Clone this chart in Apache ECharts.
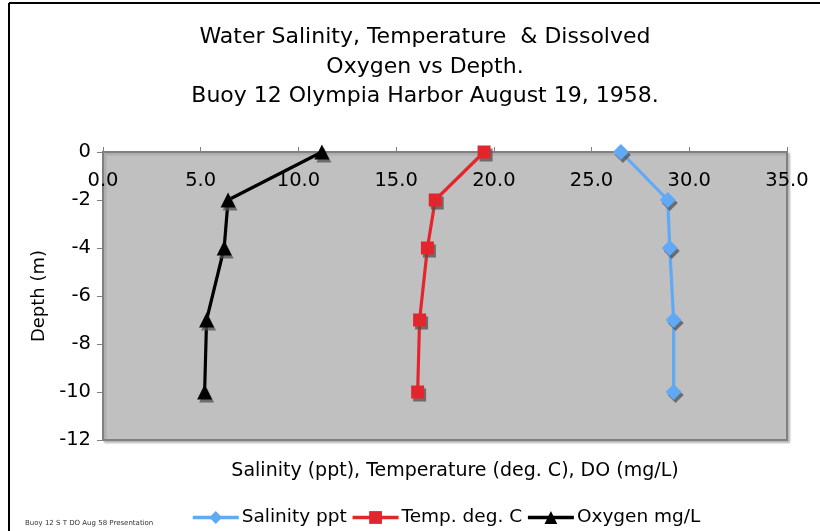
<!DOCTYPE html>
<html>
<head>
<meta charset="utf-8">
<script src="https://cdn.jsdelivr.net/npm/echarts@6/dist/echarts.min.js"></script>
<style>
  html, body { margin: 0; padding: 0; background: #fff; }
  #chart { width: 820px; height: 531px; }
</style>
</head>
<body>
<div id="chart"></div>
<script>
// Depth profile, Buoy 12, Olympia Harbor, 19 Aug 1958
const depths = [0, -2, -4, -7, -10];
const salinity = [26.5, 28.9, 29.0, 29.2, 29.2];     // ppt
const temperature = [19.5, 17.0, 16.6, 16.2, 16.1];  // deg. C
const oxygen = [11.2, 6.4, 6.2, 5.3, 5.2];           // mg/L

const xTicks = { min: 0, max: 35, step: 5 };
const yTicks = { min: -12, max: 0, step: 2 };

const FONT = 'DejaVu Sans, Verdana, sans-serif';

function pairs(values) {
  return values.map((v, i) => [v, depths[i]]);
}

const markerShadow = {
  shadowColor: 'rgba(80,80,80,0.75)',
  shadowOffsetX: 2,
  shadowOffsetY: 3,
  shadowBlur: 0
};

function profile(name, values, color, symbol, size) {
  return {
    name: name,
    type: 'line',
    data: pairs(values),
    symbol: symbol,
    symbolSize: size,
    showAllSymbol: true,
    lineStyle: { color: color, width: 3.2 },
    itemStyle: Object.assign({ color: color }, markerShadow),
    emphasis: { disabled: true },
    z: 3
  };
}

const chart = echarts.init(document.getElementById('chart'), null, { renderer: 'canvas' });

chart.setOption({
  animation: false,
  backgroundColor: '#ffffff',
  textStyle: { fontFamily: FONT },
  title: [
    {
      text: 'Water Salinity, Temperature  & Dissolved\nOxygen vs Depth.\nBuoy 12 Olympia Harbor August 19, 1958.',
      left: 420,
      top: 18,
      textAlign: 'center',
      textStyle: { fontFamily: FONT, fontSize: 22, fontWeight: 'normal', color: '#000', lineHeight: 29.5 }
    },
    {
      text: 'Salinity (ppt), Temperature (deg. C), DO (mg/L)',
      left: 450,
      top: 457,
      textAlign: 'center',
      textStyle: { fontFamily: FONT, fontSize: 19, fontWeight: 'normal', color: '#000' }
    },
    {
      text: 'Buoy 12 S T DO Aug 58 Presentation',
      left: 20,
      top: 515,
      textStyle: { fontFamily: FONT, fontSize: 7, fontWeight: 'normal', color: '#333' }
    }
  ],
  graphic: [
    // outer frame, drawn on the top and left edges
    { type: 'line', shape: { x1: 9, y1: 3, x2: 820, y2: 3 }, style: { stroke: '#000', lineWidth: 2 } },
    { type: 'line', shape: { x1: 9, y1: 3, x2: 9, y2: 531 }, style: { stroke: '#000', lineWidth: 2 } }
  ],
  legend: {
    left: 186,
    top: 503,
    itemWidth: 46,
    itemHeight: 16,
    itemGap: 4,
    lineStyle: { width: 3.5 },
    itemStyle: { shadowColor: 'transparent' },
    textStyle: { fontFamily: FONT, fontSize: 18.5, color: '#000', padding: [0, 0, 0, -2] },
    data: ['Salinity ppt', 'Temp. deg. C', 'Oxygen mg/L']
  },
  grid: {
    left: 103,
    right: 33,
    top: 152,
    bottom: 91,
    show: true,
    backgroundColor: '#c0c0c0',
    borderColor: '#808080',
    borderWidth: 2,
    shadowColor: 'rgba(150,150,150,0.6)',
    shadowOffsetX: 2,
    shadowOffsetY: 2,
    shadowBlur: 2
  },
  xAxis: {
    type: 'value',
    position: 'top',
    min: xTicks.min,
    max: xTicks.max,
    interval: xTicks.step,
    axisLine: { show: true, onZero: false, lineStyle: { color: '#808080', width: 2 } },
    axisTick: { show: true, inside: false, length: 5, lineStyle: { color: '#808080' } },
    axisLabel: {
      inside: true,
      margin: 19,
      fontFamily: FONT,
      fontSize: 19.5,
      color: '#000',
      verticalAlign: 'top',
      formatter: v => v.toFixed(1)
    },
    splitLine: { show: false }
  },
  yAxis: {
    type: 'value',
    min: yTicks.min,
    max: yTicks.max,
    interval: yTicks.step,
    name: 'Depth (m)',
    nameLocation: 'middle',
    nameGap: 52,
    nameRotate: 90,
    nameTextStyle: { fontFamily: FONT, fontSize: 18, color: '#000' },
    axisLine: { show: true, onZero: false, lineStyle: { color: '#808080', width: 2 } },
    axisTick: { show: true, length: 6, lineStyle: { color: '#808080' } },
    axisLabel: { margin: 12, fontFamily: FONT, fontSize: 19.5, color: '#000' },
    splitLine: { show: false }
  },
  series: [
    profile('Salinity ppt', salinity, '#5fa9f6', 'diamond', 16),
    profile('Temp. deg. C', temperature, '#e3262e', 'rect', 13),
    profile('Oxygen mg/L', oxygen, '#000000', 'triangle', 15)
  ]
});
</script>
</body>
</html>
